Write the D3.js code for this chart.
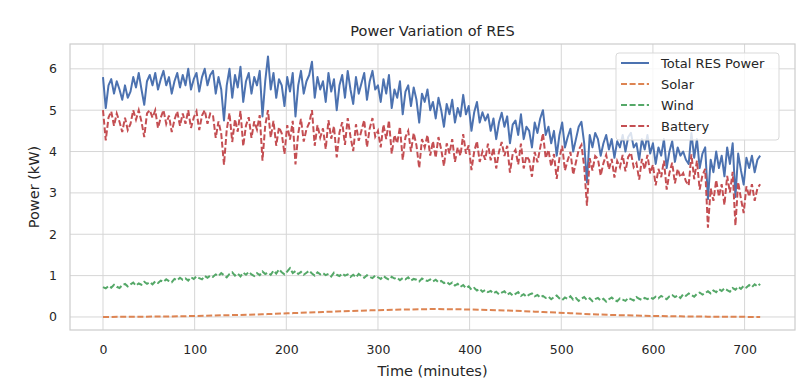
<!DOCTYPE html>
<html><head><meta charset="utf-8">
<script src="https://cdn.jsdelivr.net/npm/d3@7"></script>
<style>body{margin:0;background:#fff;} text{font-family:"DejaVu Sans",sans-serif;fill:#262626;}</style>
</head><body><svg id="c" width="810" height="388"></svg>
<script>
const timeStep = 3; // minutes between samples
const totalPower = [
5.8,5.05,5.6,5.75,5.4,5.7,5.5,5.25,5.6,5.3,5.45,5.8,5.55,5.9,5.5,5.13,5.7,5.85,5.6,5.9,
5.5,5.75,5.95,5.6,5.8,5.4,5.7,5.9,5.55,5.85,5.6,6.0,5.5,5.75,5.9,5.45,5.8,6.0,5.6,5.85,
5.95,5.4,5.8,5.5,4.75,5.6,6.0,5.3,5.85,5.55,6.05,5.2,5.7,5.9,5.4,5.8,5.6,5.95,4.85,5.7,
6.3,5.5,5.9,5.3,5.75,5.6,5.1,5.8,5.45,5.9,4.85,5.6,5.95,5.4,5.7,5.85,6.17,5.3,5.8,5.5,
5.7,5.2,5.9,5.45,5.75,5.0,5.6,5.85,5.3,5.95,5.5,5.15,5.8,5.4,5.65,5.9,5.25,5.7,5.95,5.5,
5.6,5.2,5.75,5.4,5.85,5.05,5.5,5.3,5.7,4.9,5.45,5.6,5.1,5.55,5.25,4.7,5.4,5.2,5.5,5.0,
5.2,4.8,5.3,5.0,4.6,5.15,4.9,5.25,4.7,5.05,4.85,5.37,4.9,5.1,4.5,4.95,5.2,4.7,4.95,4.75,
4.9,4.5,4.8,4.3,4.7,4.94,4.6,4.85,4.2,4.65,4.75,4.4,4.9,4.3,4.6,4.5,4.1,4.7,4.45,4.8,
5.0,4.4,4.6,4.2,4.5,3.9,4.4,4.7,4.1,4.35,4.55,4.0,4.3,4.6,4.72,4.2,3.25,4.4,4.1,4.45,
4.3,3.9,4.2,4.4,4.05,4.3,3.85,4.25,4.1,4.4,4.0,4.35,4.45,4.1,4.2,3.8,4.3,4.05,4.4,3.95,
4.2,3.7,4.1,3.9,4.3,3.6,4.0,4.25,3.75,4.1,3.9,4.0,3.8,3.7,4.45,3.85,4.3,3.6,3.95,4.1,
2.85,3.8,3.5,4.0,3.6,3.9,3.4,4.1,3.7,4.2,2.9,3.95,3.55,3.2,3.85,3.6,3.9,3.5,3.8,3.9
];
const windPower = [
0.72,0.69,0.75,0.71,0.78,0.73,0.70,0.77,0.80,0.74,0.79,0.83,0.76,0.81,0.78,0.85,0.80,0.84,0.79,0.86,
0.82,0.88,0.85,0.91,0.87,0.84,0.92,0.89,0.95,0.90,0.93,0.88,0.96,0.92,0.98,0.94,0.91,0.99,0.95,1.00,
0.97,1.03,0.99,1.06,1.01,0.96,1.04,1.08,1.00,1.05,0.98,1.07,1.02,1.09,1.03,0.99,1.06,1.01,1.10,1.04,
1.07,1.02,1.12,1.05,1.15,1.08,1.03,1.10,1.18,1.06,1.11,1.04,1.09,1.02,1.07,1.12,1.05,1.00,1.08,1.03,
1.06,1.01,1.04,0.98,1.07,1.02,0.99,1.05,1.00,1.03,0.97,1.02,0.96,1.04,0.99,0.95,1.01,0.97,0.94,1.00,
0.96,0.92,0.99,0.94,0.90,0.97,0.93,0.95,0.89,0.94,0.91,0.96,0.88,0.92,0.90,0.86,0.93,0.89,0.87,0.91,
0.86,0.90,0.84,0.87,0.82,0.85,0.79,0.83,0.76,0.80,0.73,0.77,0.70,0.74,0.66,0.70,0.64,0.68,0.61,0.65,
0.60,0.63,0.57,0.61,0.55,0.59,0.62,0.54,0.58,0.52,0.56,0.60,0.51,0.55,0.49,0.54,0.57,0.50,0.53,0.47,
0.51,0.46,0.49,0.43,0.48,0.52,0.45,0.41,0.47,0.44,0.50,0.42,0.46,0.39,0.44,0.48,0.41,0.45,0.38,0.43,
0.46,0.40,0.44,0.37,0.43,0.47,0.41,0.38,0.45,0.42,0.39,0.46,0.43,0.40,0.48,0.44,0.41,0.46,0.43,0.47,
0.44,0.49,0.45,0.51,0.47,0.43,0.50,0.53,0.48,0.52,0.46,0.55,0.51,0.57,0.53,0.49,0.56,0.59,0.54,0.58,
0.62,0.57,0.64,0.60,0.67,0.63,0.69,0.65,0.61,0.70,0.66,0.73,0.68,0.75,0.71,0.77,0.72,0.79,0.74,0.80
];
const batteryPower = [
5.0,4.27,4.82,4.97,4.62,4.92,4.72,4.47,4.82,4.52,4.67,5.0,4.77,5.0,4.72,4.35,4.92,5.0,4.82,5.0,
4.57,4.82,5.0,4.67,4.87,4.47,4.77,4.97,4.62,4.92,4.67,5.0,4.57,4.82,4.97,4.52,4.87,5.0,4.67,4.92,
4.88,4.33,4.73,4.43,3.68,4.53,4.93,4.23,4.78,4.48,4.98,4.13,4.63,4.83,4.33,4.73,4.53,4.88,3.78,4.63,
5.0,4.34,4.74,4.14,4.59,4.44,3.94,4.64,4.29,4.74,3.69,4.44,4.79,4.24,4.54,4.69,5.0,4.14,4.64,4.34,
4.56,4.06,4.76,4.31,4.61,3.86,4.46,4.71,4.16,4.81,4.36,4.01,4.66,4.26,4.51,4.76,4.11,4.56,4.81,4.36,
4.5,4.1,4.65,4.3,4.75,3.95,4.4,4.2,4.6,3.8,4.35,4.5,4.0,4.45,4.15,3.6,4.3,4.1,4.4,3.9,
4.25,3.85,4.35,4.05,3.65,4.2,3.95,4.3,3.75,4.1,3.9,4.42,3.95,4.15,3.55,4.0,4.25,3.75,4.0,3.8,
4.19,3.79,4.09,3.59,3.99,4.23,3.89,4.14,3.49,3.94,4.04,3.69,4.19,3.59,3.89,3.79,3.39,3.99,3.74,4.09,
4.44,3.84,4.04,3.64,3.94,3.34,3.84,4.14,3.54,3.79,3.99,3.44,3.74,4.04,4.16,3.64,2.69,3.84,3.54,3.89,
3.82,3.42,3.72,3.92,3.57,3.82,3.37,3.77,3.62,3.92,3.52,3.87,3.97,3.62,3.72,3.32,3.82,3.57,3.92,3.47,
3.68,3.18,3.58,3.38,3.78,3.08,3.48,3.73,3.23,3.58,3.38,3.48,3.28,3.18,3.93,3.33,3.78,3.08,3.43,3.58,
2.16,3.11,2.81,3.31,2.91,3.21,2.71,3.41,3.01,3.51,2.21,3.26,2.86,2.51,3.16,2.91,3.21,2.81,3.11,3.21
];
const solarTime = [0,30,60,90,120,150,180,210,240,270,300,330,360,390,420,450,480,510,540,570,600,630,660,690,717];
const solarPower = [0.0,0.005,0.01,0.02,0.035,0.05,0.07,0.095,0.12,0.145,0.165,0.18,0.19,0.185,0.17,0.15,0.12,0.09,0.06,0.04,0.025,0.015,0.008,0.004,0.0];
const xTicks = [0,100,200,300,400,500,600,700];
const yTicks = [0,1,2,3,4,5,6];
const seriesNames = ["Total RES Power","Solar","Wind","Battery"];
const colors = ["#4c72b0","#dd8452","#55a868","#c44e52"];

const svg = d3.select("#c");
const L = 70, R = 795, T = 44, B = 330;
const x = d3.scaleLinear().domain([-36, 755]).range([L, R]);
const y = d3.scaleLinear().domain([-0.315, 6.6]).range([B, T]);

const g = svg.append("g");
g.selectAll(".gx").data(xTicks).join("line").attr("x1",d=>x(d)).attr("x2",d=>x(d)).attr("y1",T).attr("y2",B).attr("stroke","#d6d6d6").attr("stroke-width",1);
g.selectAll(".gy").data(yTicks).join("line").attr("y1",d=>y(d)).attr("y2",d=>y(d)).attr("x1",L).attr("x2",R).attr("stroke","#d6d6d6").attr("stroke-width",1);
g.append("rect").attr("x",L).attr("y",T).attr("width",R-L).attr("height",B-T).attr("fill","none").attr("stroke","#cccccc").attr("stroke-width",1.2);

const xAxis = d3.axisBottom(x).tickValues(xTicks).tickSize(0).tickPadding(15);
const ax = svg.append("g").attr("transform",`translate(0,${B})`).call(xAxis);
ax.select(".domain").remove();
ax.selectAll("text").attr("font-size",12.5).style("font-family","DejaVu Sans").attr("fill","#262626");
const yAxis = d3.axisLeft(y).tickValues(yTicks).tickFormat(d3.format("d")).tickSize(0).tickPadding(13);
const ay = svg.append("g").attr("transform",`translate(${L},0)`).call(yAxis);
ay.select(".domain").remove();
ay.selectAll("text").attr("font-size",12.5).style("font-family","DejaVu Sans").attr("fill","#262626");

const times = batteryPower.map((d,i)=>i*timeStep);
const line = d3.line().x(d=>x(d[0])).y(d=>y(d[1]));
const dash = "6,2.6";
const sw = 2;
const plot = svg.append("g");
plot.append("path").datum(times.map((t,i)=>[t,totalPower[i]])).attr("d",line).attr("fill","none").attr("stroke",colors[0]).attr("stroke-width",sw).attr("stroke-linejoin","round");
plot.append("path").datum(solarTime.map((t,i)=>[t,solarPower[i]])).attr("d",d3.line().x(d=>x(d[0])).y(d=>y(d[1])).curve(d3.curveMonotoneX)).attr("fill","none").attr("stroke",colors[1]).attr("stroke-width",sw).attr("stroke-dasharray",dash);
plot.append("path").datum(times.map((t,i)=>[t,windPower[i]])).attr("d",line).attr("fill","none").attr("stroke",colors[2]).attr("stroke-width",sw).attr("stroke-dasharray",dash);
plot.append("path").datum(times.map((t,i)=>[t,batteryPower[i]])).attr("d",line).attr("fill","none").attr("stroke",colors[3]).attr("stroke-width",sw).attr("stroke-dasharray",dash);

svg.append("text").attr("x",(L+R)/2).attr("y",36).attr("text-anchor","middle").attr("font-size",14.5).text("Power Variation of RES");
svg.append("text").attr("x",(L+R)/2).attr("y",376).attr("text-anchor","middle").attr("font-size",14.5).text("Time (minutes)");
svg.append("text").attr("transform",`translate(39,${(T+B)/2}) rotate(-90)`).attr("text-anchor","middle").attr("font-size",14.5).text("Power (kW)");

const lg = svg.append("g").attr("transform","translate(616,53)");
lg.append("rect").attr("width",163).attr("height",87).attr("rx",3).attr("fill","#fff").attr("fill-opacity",0.8).attr("stroke","#d9d9d9");
seriesNames.forEach((n,i)=>{
  const yy = 10 + i*21;
  lg.append("line").attr("x1",5).attr("x2",33).attr("y1",yy).attr("y2",yy).attr("stroke",colors[i]).attr("stroke-width",2).attr("stroke-dasharray",i===0?null:dash);
  lg.append("text").attr("x",45).attr("y",yy+4.5).attr("font-size",13).text(n);
});
</script></body></html>
